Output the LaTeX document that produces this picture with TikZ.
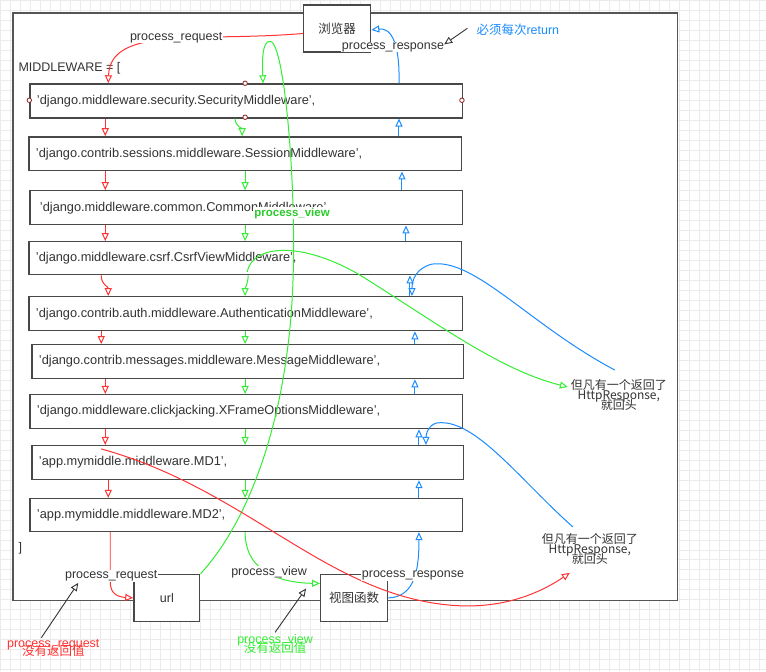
\documentclass[tikz,border=0pt]{standalone}
\usepackage{fontspec}
\setmainfont{Liberation Sans}
\newfontfamily\cjk{Noto Sans CJK SC}
\usetikzlibrary{arrows.meta}
\definecolor{rq}{HTML}{FF3333}
\definecolor{gv}{HTML}{33EE33}
\definecolor{bp}{HTML}{1A8CFF}
\definecolor{tx}{HTML}{333333}
\definecolor{gridc}{HTML}{EBEBEB}
\definecolor{frm}{HTML}{555555}
\definecolor{hnd}{HTML}{8B2525}
\lineskiplimit=-30pt\relax
\begin{document}
\lineskiplimit=-30pt\relax
\begin{tikzpicture}[x=1pt,y=-1pt,
  tip/.style={-{Triangle[open,length=8pt,width=7pt]}},
  req/.style={rq,line width=1pt,tip},
  vw/.style={gv,line width=1pt,tip},
  rsp/.style={bp,line width=1pt,tip},
  note/.style={tx,line width=0.9pt,tip},
  mw/.style={draw=frm!85!black,line width=1.3pt,fill=white,anchor=north west,
    inner xsep=7pt,inner ysep=0pt,align=left,text=tx,text width=419pt,
    minimum height=34pt,font=\fontsize{12.8}{15}\selectfont},
  plain/.style={draw=frm!85!black,line width=1.3pt,fill=white,anchor=north west,
    inner sep=0pt,text=tx,minimum width=67pt,minimum height=47pt,
    font=\fontsize{12.5}{15}\selectfont},
  lbl/.style={fill=white,inner xsep=1pt,inner ysep=0.5pt,text=tx,font=\fontsize{12.5}{15}\selectfont},
  handle/.style={circle,draw=hnd,fill=white,line width=0.8pt,inner sep=0pt,minimum size=4.5pt},
  multi/.style={align=center,inner sep=0pt,font=\fontsize{12}{10}\selectfont\cjk},
]
% background and grid
\fill[white] (0,671) rectangle (766,0);
\draw[gridc,line width=0.7pt,step=10pt] (0,671) grid (766,0);
\useasboundingbox (0,0) rectangle (766,671);

% frame
\fill[black!35] (14,14) rectangle (678.5,601.5);
\node[draw=frm,line width=1.2pt,fill=white,anchor=north west,minimum width=665pt,minimum height=588pt,inner sep=0pt] (frame) at (12,12) {};

\node[text=tx,anchor=west,inner sep=0pt,font=\fontsize{12.5}{15}\selectfont] (mwl) at (18,68) {MIDDLEWARE = [};
\node[text=tx,anchor=west,inner sep=0pt,font=\fontsize{12.5}{15}\selectfont] (close) at (18,548) {]};

% middleware boxes
\node[mw] (b1) at (29,83) {'django.middleware.security.SecurityMiddleware',};
\node[mw] (b2) at (28,136) {'django.contrib.sessions.middleware.SessionMiddleware',};
\node[mw] (b3) at (29,190) {\hspace{3pt}'django.middleware.common.CommonMiddleware',};
\node[mw,minimum height=33pt] (b4) at (28,241) {'django.middleware.csrf.CsrfViewMiddleware',};
\node[mw,text width=420pt] (b5) at (28,296) {'django.contrib.auth.middleware.AuthenticationMiddleware',};
\node[mw,text width=418pt] (b6) at (31,344) {'django.contrib.messages.middleware.MessageMiddleware',};
\node[mw] (b7) at (29,394) {'django.middleware.clickjacking.XFrameOptionsMiddleware',};
\node[mw,text width=418pt] (b8) at (31,445) {'app.mymiddle.middleware.MD1',};
\node[mw,minimum height=33pt] (b9) at (29,498) {'app.mymiddle.middleware.MD2',};

% browser, url, view
\node[plain] (br) at (303,4) {\cjk 浏览器};
\node[plain,minimum width=66pt] (url) at (133,574) {url};
\node[plain] (view) at (320,574) {\cjk 视图函数};

% handles on first box
\node[handle] (h1) at (245,83) {};
\node[handle] (h2) at (245,117) {};
\node[handle] (h3) at (29,100) {};
\node[handle] (h4) at (462,100) {};

% column coordinates
\coordinate (R) at (105,0);
\coordinate (Ra) at (101,0);
\coordinate (Rb) at (108,0);
\coordinate (Rc) at (110,0);
\coordinate (G) at (245,0);
\coordinate (Ga) at (235,0);
\coordinate (Gb) at (242,0);
\coordinate (Gc) at (248,0);
\coordinate (Gt) at (263,0);
\coordinate (B1) at (399,0);
\coordinate (B2) at (402,0);
\coordinate (B3) at (406,0);
\coordinate (B4) at (410,0);
\coordinate (B5) at (415,0);
\coordinate (B6) at (419,0);
\coordinate (Bd1) at (412,0);
\coordinate (Bd2) at (426,0);

% request chain (red)
\draw[req] ([yshift=-5pt]br.west) .. controls (200,42) and (110,25) .. (b1.north -| Rb);
\draw[req] (b1.south -| R) -- (b2.north -| R);
\draw[req] (b2.south -| R) -- (b3.north -| R);
\draw[req] (b3.south -| R) -- (b4.north -| R);
\draw[req] (b4.south -| Ra) .. controls +(0,10) and +(0,-10) .. (b5.north -| Rb);
\draw[req] (b5.south -| Ra) -- (b6.north -| Ra);
\draw[req] (b6.south -| R) -- (b7.north -| R);
\draw[req] (b7.south -| R) -- (b8.north -| R);
\draw[req] (b8.south -| Rb) -- (b9.north -| Rb);
\draw[req] (b9.south -| Rc) -- (110,582) .. controls (110,593) and (116,597) .. (url.west);

% view chain (green)
\draw[vw] (b1.south -| Ga) .. controls +(0,8) and +(0,-8) .. (b2.north -| Gb);
\draw[vw] (b2.south -| G) -- (b3.north -| G);
\draw[vw] (b3.south -| G) -- (b4.north -| G);
\draw[vw] (b4.south -| Gc) .. controls +(0,8) and +(0,-8) .. (b5.north -| G);
\draw[vw] (b5.south -| G) -- (b6.north -| G);
\draw[vw] (b6.south -| G) -- (b7.north -| G);
\draw[vw] (b7.south -| G) -- (b8.north -| G);
\draw[vw] (b8.south -| G) -- (b9.north -| G);
\draw[vw] (b9.south -| G) .. controls (245,575) and (285,583) .. ([yshift=14.5pt]view.west);
\draw[vw] (url.north east) .. controls (250,520) and (285,420) .. (292,300)
  .. controls (298,200) and (285,41) .. (270,41) .. controls (262,41) and (262,60) .. (b1.north -| Gt);

% response chain (blue)
\draw[rsp] (b1.north -| B1) .. controls (400,45) and (392,27) .. ([yshift=-1.5pt]br.east);
\draw[rsp] (b2.north -| B1) -- (b1.south -| B1);
\draw[rsp] (b3.north -| B2) -- (b2.south -| B2);
\draw[rsp] (b4.north -| B3) -- (b3.south -| B3);
\draw[rsp] (b5.north -| B4) -- (b4.south -| B4);
\draw[rsp] (b6.north -| B5) -- (b5.south -| B5);
\draw[rsp] (b7.north -| B5) -- (b6.south -| B5);
\draw[rsp] (b8.north -| B6) -- (b7.south -| B6);
\draw[rsp] (b9.north -| B6) -- (b8.south -| B6);
\draw[rsp] (view.east) .. controls (415,597) and (419,570) .. (b9.south -| B6);

% notes
\node[multi,text=tx] (n1) at (619,395) {但凡有一个返回了\\HttpResponse,\\就回头};
\node[multi,text=tx] (n2) at (590,549) {但凡有一个返回了\\HttpResponse,\\就回头};
\coordinate (bs1) at (615,370);
\coordinate (bs2) at (573,527);
\coordinate (gs) at (247,272);
\coordinate (gt) at (568,387);
\coordinate (rs) at (101,449);
\coordinate (rt) at (570,573);

% long curves
\draw[rsp] (bs1) .. controls (530,325) and (475,258) .. (432,264) .. controls (416,268) and (412,280) .. (b5.north -| Bd1);
\draw[rsp] (bs2) .. controls (520,480) and (475,418) .. (437,423) .. controls (428,425) and (426,435) .. (b8.north -| Bd2);
\draw[vw] (gs) .. controls (252,245) and (300,240) .. (360,275) .. controls (440,325) and (500,370) .. (gt);
\draw[req] (rs) .. controls (250,490) and (330,600) .. (460,606) .. controls (510,608) and (545,590) .. (rt);

% connector labels
\node[lbl] (ltreq) at (176,37) {process\_request};
\node[lbl] (ltrsp) at (393,47) {process\_response};
\node[lbl,text=gv!85!black,font=\fontsize{11.5}{14}\selectfont\bfseries] (lview) at (292,213) {process\_view};
\node[lbl] (lbreq) at (111,576) {process\_request};
\node[lbl] (lbview) at (269,572) {process\_view};
\node[lbl] (lbrsp) at (413,576) {process\_response};

% side notes
\node[text=bp,inner sep=0pt,font=\fontsize{12.5}{15}\selectfont] (ret) at (518,29) {{\cjk 必须每次}return};
\node[multi,text=rq,font=\fontsize{12.5}{8.5}\selectfont] (nr) at (53,648) {process\_request\\{\cjk 没有返回值}};
\node[multi,text=gv,font=\fontsize{12.5}{8.5}\selectfont] (nv) at (275,644) {process\_view\\{\cjk 没有返回值}};

\draw[note] ([xshift=-9pt,yshift=1pt]ret.west) -- ([xshift=-1pt,yshift=3pt]ltrsp.east);
\draw[note] ([xshift=-12pt,yshift=1pt]nr.north) -- ([xshift=-33pt,yshift=-1pt]lbreq.south);
\draw[note] ([yshift=2pt]nv.north) -- ([xshift=-14pt,yshift=9.5pt]view.west);
\end{tikzpicture}
\end{document}
